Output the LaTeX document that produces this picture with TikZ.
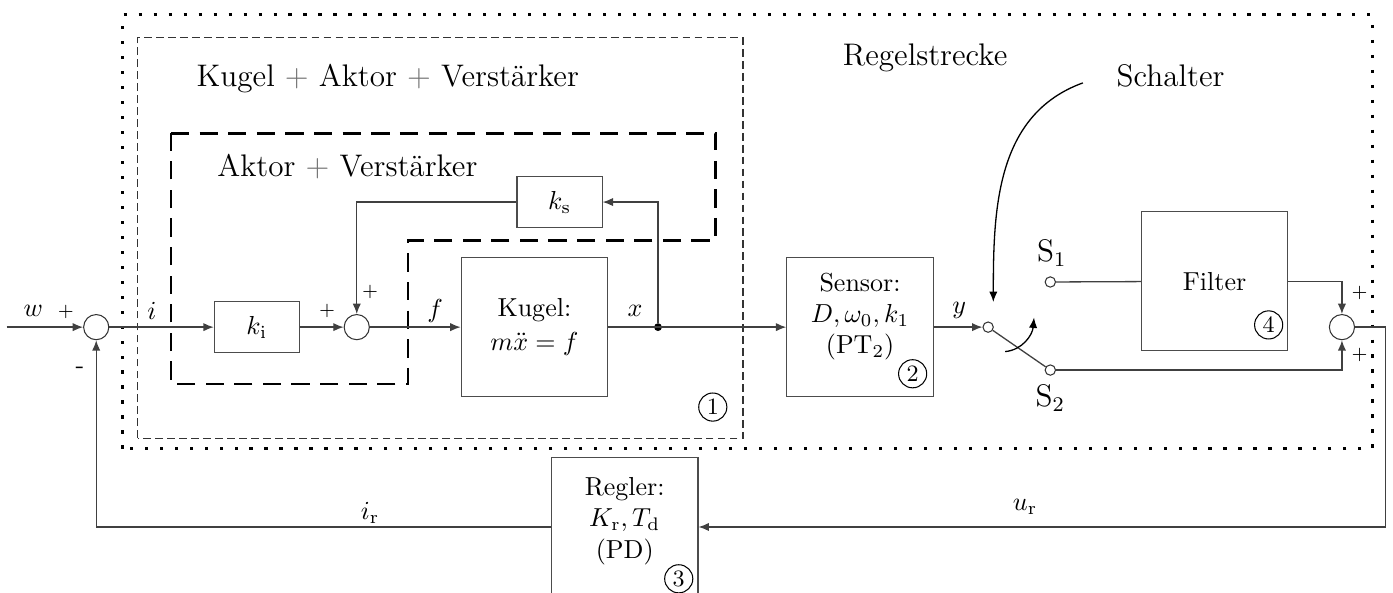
\documentclass[tikz,border=0pt]{standalone}
\usepackage{amsmath}
\usepackage{amssymb}
\usetikzlibrary{positioning,arrows.meta}

\tikzset{
  block/.style={draw=black!70, minimum width=1.98cm, minimum height=1.88cm, align=center},
  gain/.style={draw=black!70, minimum width=1.15cm, minimum height=0.69cm},
  sumpt/.style={draw=black!80, circle, minimum size=0.34cm, inner sep=0pt},
  contact/.style={draw=black!80, circle, fill=white, minimum size=0.14cm, inner sep=0pt},
  tapdot/.style={fill, circle, minimum size=3pt, inner sep=0pt},
  tag/.style={draw, circle, inner sep=0.5pt, minimum size=0.38cm, font=\small},
  sgn/.style={font=\scriptsize, inner sep=1pt},
  title/.style={anchor=base west, inner sep=0pt, font=\large},
  wire/.style={black!75, line width=0.5pt},
  sig/.style={wire, -{Latex[length=4pt,width=3.2pt]}},
}

\begin{document}
\begin{tikzpicture}[node distance=1ex]
  \useasboundingbox (0,0) rectangle (18.82,8.01);

  % frames
  \draw [line width=1.2pt, dash pattern=on 1.2pt off 4.56pt]
    (1.66,1.95) rectangle (18.54,7.81);
  \draw [black!80, line width=0.5pt, dash pattern=on 3pt off 1.6pt]
    (1.86,2.09) rectangle (10.04,7.50);
  \draw [line width=1pt, dash pattern=on 7pt off 4pt]
    (2.31,6.21) -- (9.67,6.21) -- (9.67,4.76) -- (5.51,4.76)
    -- (5.51,2.82) -- (2.31,2.82) -- cycle;

  \node [title] (outerTitle) at (2.65,6.84)
        {Kugel {\color{black!55}$+$} Aktor {\color{black!55}$+$} Verstärker};
  \node [title] (innerTitle) at (2.93,5.62)
        {Aktor {\color{black!55}$+$} Verstärker};
  \node [title] (plantTitle) at (11.38,7.12) {Regelstrecke};
  \node [title] (switchTitle) at (15.08,6.84) {Schalter};

  % blocks
  \coordinate (wIn) at (0.09,3.59);
  \node [sumpt] (sumIn) at (1.30,3.59) {};
  \node [gain] (kI) at (3.47,3.59) {$k_\mathrm{i}$};
  \node [sumpt] (sumFb) at (4.82,3.59) {};
  \node [block] (ball) at (7.22,3.59) {Kugel:\\[1pt] $m\ddot{x}=f$};
  \node [gain] (kS) at (7.56,5.28) {$k_\mathrm{s}$};
  \node [tapdot] (xTap) at (8.89,3.59) {};
  \node [block] (sensor) at (11.62,3.59) {};
  \node [align=center] (sensorTxt) at (11.62,3.73)
        {Sensor:\\ $D,\omega_0,k_1$\\ (PT$_2$)};
  \node [contact] (swIn) at (13.35,3.59) {};
  \node [contact] (swOne) at (14.19,4.20) {};
  \node [contact] (swTwo) at (14.19,3.01) {};
  \node [block] (filter) at (16.41,4.21) {Filter};
  \node [sumpt] (sumOut) at (18.13,3.59) {};
  \coordinate (outCorner) at (18.72,3.59);
  \node [block] (ctrl) at (8.44,0.89) {};
  \node [align=center] (ctrlTxt) at (8.44,0.97)
        {Regler:\\ $K_\mathrm{r},T_\mathrm{d}$\\ (PD)};

  \node [tag] (tagOne) at (9.63,2.51) {1};
  \node [tag] (tagTwo) at (12.33,2.96) {2};
  \node [tag] (tagThree) at (9.17,0.19) {3};
  \node [tag] (tagFour) at (17.14,3.62) {4};

  % signal labels
  \node (wLbl) at (0.45,3.81) {$w$};
  \node [sgn] (wSgn) at (0.89,3.80) {$+$};
  \node [inner sep=1pt] (fbSgn) at (1.08,3.01) {-};
  \node (iLbl) at (2.05,3.81) {$i$};
  \node [sgn] (kiSgn) at (4.42,3.81) {$+$};
  \node [sgn] (ksSgn) at (5.00,4.07) {$+$};
  \node (fLbl) at (5.88,3.81) {$f$};
  \node (xLbl) at (8.58,3.81) {$x$};
  \node (yLbl) at (12.96,3.81) {$y$};
  \node [font=\large] (sOneLbl) at (14.21,4.59) {S$_1$};
  \node [font=\large] (sTwoLbl) at (14.19,2.63) {S$_2$};
  \node [sgn] (filtSgn) at (18.37,4.05) {$+$};
  \node [sgn] (directSgn) at (18.37,3.22) {$+$};
  \node (irLbl) at (5.00,1.08) {$i_\mathrm{r}$};
  \node (urLbl) at (13.85,1.16) {$u_\mathrm{r}$};

  % connections
  \draw [sig] (wIn) -- (sumIn);
  \draw [sig] (sumIn) -- (kI);
  \draw [sig] (kI) -- (sumFb);
  \draw [sig] (sumFb) -- (ball);
  \draw [sig] (ball) -- (sensor);
  \draw [sig] (xTap) |- (kS);
  \draw [sig] (kS) -| (sumFb);
  \draw [sig] (sensor) -- (swIn);
  \draw [wire] (swIn) -- (swTwo);
  \draw [wire] (swOne) -- (filter);
  \draw [sig] (filter) -| (sumOut);
  \draw [sig] (swTwo) -| (sumOut);
  \draw [sig] (sumOut) -- (outCorner) |- (ctrl);
  \draw [sig] (ctrl) -| (sumIn);

  % switch
  \coordinate (swTurnA) at (13.58,3.26);
  \coordinate (swTurnB) at (13.97,3.72);
  \draw [sig, black] (swTurnA) to [out=5, in=-95] (swTurnB);
  \coordinate (schalterTail) at (14.63,6.89);
  \coordinate (schalterHead) at (13.42,3.93);
  \draw [sig, black] (schalterTail) to [out=200, in=90] (schalterHead);

\end{tikzpicture}
\end{document}
